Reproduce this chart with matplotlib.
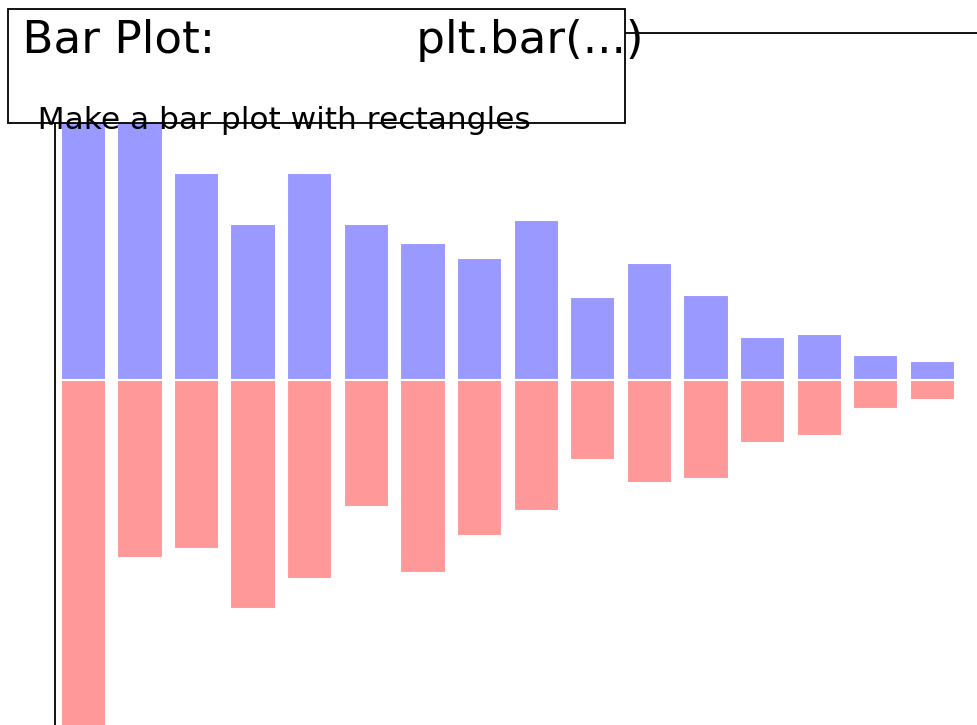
import numpy as np
import matplotlib
matplotlib.use('Agg')
import matplotlib.pyplot as plt
from matplotlib.patches import FancyBboxPatch

n = 16
X = np.arange(n)
Y1 = [0.97, 0.93, 0.746, 0.562, 0.746, 0.562, 0.494, 0.439,
      0.576, 0.299, 0.421, 0.306, 0.155, 0.166, 0.090, 0.068]
Y2 = [1.30, 0.641, 0.609, 0.825, 0.717, 0.457, 0.695, 0.562,
      0.472, 0.288, 0.371, 0.357, 0.227, 0.202, 0.104, 0.072]

fig = plt.figure(figsize=(9.78, 7.25), dpi=100)
ax = fig.add_axes([55/978, -2/725, 934/978, 694/725])

ax.bar(X, +np.array(Y1), facecolor='#9999ff', edgecolor='white', linewidth=1.5)
ax.bar(X, -np.array(Y2), facecolor='#ff9999', edgecolor='white', linewidth=1.5)
ax.set_xlim(-.5, n)
ax.set_xticks([])
ax.set_ylim(-1.25, 1.25)
ax.set_yticks([])
for s in ax.spines.values():
    s.set_linewidth(1.3)

# title box
ax.add_patch(FancyBboxPatch((-0.05, .87), width=.66, height=.165, clip_on=False,
                            boxstyle="square,pad=0", zorder=3, linewidth=1.3,
                            facecolor='white', edgecolor='black', alpha=1.0,
                            transform=ax.transAxes))

ax.text(-0.05, 1.02, " Bar Plot:              plt.bar(...)",
        ha='left', va='top', size=32.6, transform=ax.transAxes, zorder=4)
ax.text(-0.05, 0.861, "   Make a bar plot with rectangles",
        ha='left', va='baseline', size=22.5,
        transform=ax.transAxes, zorder=4)

fig.savefig('out.png', dpi=100)
